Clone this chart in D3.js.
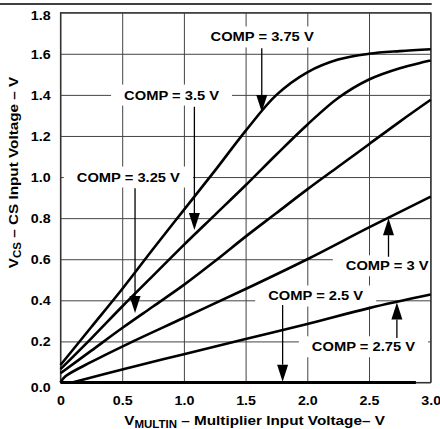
<!DOCTYPE html>
<html>
<head>
<meta charset="utf-8">
<script src="https://cdn.jsdelivr.net/npm/d3@7"></script>
<style>
  body { margin: 0; background: #fff; }
  svg { display: block; }
  text { font-family: "Liberation Sans", Arial, sans-serif; font-weight: bold; fill: #000; }
</style>
</head>
<body>
<svg id="chart" width="440" height="429"></svg>
<script>
// axis ticks
const xTicks = [0, 0.5, 1.0, 1.5, 2.0, 2.5, 3.0];
const xTickLabels = ["0", "0.5", "1.0", "1.5", "2.0", "2.5", "3.0"];
const yTicks = [0, 0.2, 0.4, 0.6, 0.8, 1.0, 1.2, 1.4, 1.6, 1.8];
const yTickLabels = ["0.0", "0.2", "0.4", "0.6", "0.8", "1.0", "1.2", "1.4", "1.6", "1.8"];

// V_MULTIN (V) and V_CS (V), one pair per COMP value
const multin375 = [0, 0.25, 0.5, 0.75, 1.0, 1.25, 1.5, 1.75, 2.0, 2.25, 2.5, 2.75, 3.0];
const cs375 = [0.085, 0.27, 0.455, 0.65, 0.84, 1.03, 1.225, 1.40, 1.51, 1.572, 1.60, 1.613, 1.622];
const multin350 = [0, 0.25, 0.5, 0.75, 1.0, 1.25, 1.5, 1.75, 2.0, 2.25, 2.5, 2.75, 3.0];
const cs350 = [0.065, 0.215, 0.37, 0.52, 0.67, 0.815, 0.96, 1.11, 1.255, 1.385, 1.475, 1.53, 1.567];
const multin325 = [0, 0.25, 0.5, 0.75, 1.0, 1.25, 1.5, 1.75, 2.0, 2.25, 2.5, 2.75, 3.0];
const cs325 = [0.045, 0.155, 0.265, 0.37, 0.475, 0.59, 0.71, 0.825, 0.94, 1.05, 1.16, 1.27, 1.376];
const multin300 = [0, 0.04, 0.25, 0.5, 1.0, 1.5, 2.0, 2.5, 3.0];
const cs300 = [0.0, 0.03, 0.1, 0.175, 0.315, 0.455, 0.60, 0.755, 0.905];
const multin275 = [0.095, 0.5, 1.0, 1.5, 2.0, 2.5, 3.0];
const cs275 = [0, 0.063, 0.138, 0.212, 0.285, 0.362, 0.428];
const multin250 = [0, 2.88];
const cs250 = [0, 0];

// callouts: text, text centre and arrow (in volts)
const calloutText = ["COMP = 3.75 V", "COMP = 3.5 V", "COMP = 3.25 V", "COMP = 3 V", "COMP = 2.5 V", "COMP = 2.75 V"];
const calloutX = [1.634, 0.90, 0.55, 2.647, 2.068, 2.455];
const calloutY = [1.682, 1.399, 1.0, 0.568, 0.421, 0.174];
const arrowX = [1.631, 1.085, 0.604, 2.658, 1.80, 2.726];
const arrowFrom = [1.627, 1.342, 0.946, 0.612, 0.377, 0.216];
const arrowTo = [1.317, 0.742, 0.338, 0.80, 0.004, 0.39];

const series = [
    { x: multin375, y: cs375 },
    { x: multin350, y: cs350 },
    { x: multin325, y: cs325 },
    { x: multin300, y: cs300 },
    { x: multin275, y: cs275 },
    { x: multin250, y: cs250, bold: true }
];

const svg = d3.select("#chart");
const plotLeft = 60.5, plotRight = 430.7, plotTop = 12.7, plotBottom = 382.5;
const stretch = 1.15; // the reference font runs wider than Arial

const x = d3.scaleLinear().domain([0, 3]).range([plotLeft, plotRight]);
const y = d3.scaleLinear().domain([0, 1.8]).range([plotBottom, plotTop]);

//Rule across the top of the figure
svg.append("line")
    .attr("x1", 0).attr("x2", plotRight + 1)
    .attr("y1", 4).attr("y2", 4)
    .attr("stroke", "#000")
    .attr("stroke-width", 1.4);

svg.append("clipPath").attr("id", "plot-clip")
    .append("rect")
    .attr("x", plotLeft).attr("y", plotTop)
    .attr("width", plotRight - plotLeft).attr("height", plotBottom - plotTop);

//Grid lines and tick labels
const yAxis = svg.append("g")
    .attr("transform", `translate(${plotLeft},0)`)
    .call(d3.axisLeft(y).tickValues(yTicks).tickSize(-(plotRight - plotLeft)).tickPadding(0)
        .tickFormat((d, i) => yTickLabels[i]));
const xAxis = svg.append("g")
    .attr("transform", `translate(0,${plotBottom})`)
    .call(d3.axisBottom(x).tickValues(xTicks).tickSize(-(plotBottom - plotTop)).tickPadding(0)
        .tickFormat((d, i) => xTickLabels[i]));

[xAxis, yAxis].forEach(g => {
    g.select(".domain").remove();
    g.selectAll(".tick line").attr("stroke", "#444").attr("stroke-width", 1);
});

yAxis.selectAll(".tick text")
    .attr("x", 0).attr("dy", "0.36em")
    .attr("font-size", 12.4)
    .attr("text-anchor", "end")
    .attr("transform", (d, i) => {
        let nudge = 0;
        if (i === 0) nudge = 5;
        if (i === yTicks.length - 1) nudge = 2.5;
        return `translate(-9.8,${nudge}) scale(${stretch},1)`;
    });

xAxis.selectAll(".tick text")
    .attr("y", 0).attr("dy", 0)
    .attr("font-size", 12.4)
    .attr("transform", `translate(0,22.5) scale(${stretch},1)`);

//White patches behind the callouts
const calloutLayer = svg.append("g").attr("clip-path", "url(#plot-clip)");
const labelLayer = svg.append("g");

calloutText.forEach((t, i) => {
    const label = labelLayer.append("text")
        .attr("text-anchor", "middle")
        .attr("dy", "0.35em")
        .attr("font-size", 12.8)
        .attr("transform", `translate(${x(calloutX[i])},${y(calloutY[i])}) scale(${stretch},1)`)
        .text(t);
    const w = label.node().getComputedTextLength() * stretch;
    calloutLayer.append("rect")
        .attr("x", x(calloutX[i]) - w / 2 - 13)
        .attr("y", y(calloutY[i]) - 10.5)
        .attr("width", w + 26)
        .attr("height", 21)
        .attr("fill", "#fff");
});

//Plot frame
svg.append("rect")
    .attr("x", plotLeft).attr("y", plotTop)
    .attr("width", plotRight - plotLeft).attr("height", plotBottom - plotTop)
    .attr("fill", "none")
    .attr("stroke", "#333")
    .attr("stroke-width", 1.2);

//Curves
const line = d3.line()
    .x(d => x(d[0]))
    .y(d => y(d[1]))
    .curve(d3.curveCatmullRom.alpha(0.5));

svg.append("g").selectAll("path")
    .data(series)
    .enter()
    .append("path")
    .attr("d", s => line(s.x.map((v, i) => [v, s.y[i]])))
    .attr("fill", "none")
    .attr("stroke", "#000")
    .attr("stroke-width", s => s.bold ? 3.2 : 2.6)
    .attr("stroke-linecap", "butt");

//Arrows pointing at the curves
const arrows = svg.append("g");
arrowX.forEach((ax, i) => {
    const px = x(ax), y0 = y(arrowFrom[i]), y1 = y(arrowTo[i]);
    const dir = y1 > y0 ? 1 : -1;
    const headLen = 17, headHalf = 5.5;
    arrows.append("line")
        .attr("x1", px).attr("x2", px)
        .attr("y1", y0).attr("y2", y1 - dir * headLen)
        .attr("stroke", "#000")
        .attr("stroke-width", 1.3);
    arrows.append("path")
        .attr("d", `M${px - headHalf},${y1 - dir * headLen}L${px + headHalf},${y1 - dir * headLen}L${px},${y1}Z`)
        .attr("fill", "#000");
});

labelLayer.raise();

//Axis titles
const xTitle = svg.append("text")
    .attr("text-anchor", "middle")
    .attr("font-size", 13.3)
    .attr("transform", `translate(${(plotLeft + plotRight) / 2 + 9},425) scale(${stretch},1)`);
xTitle.append("tspan").text("V");
xTitle.append("tspan").attr("font-size", 10).attr("dy", 3).text("MULTIN");
xTitle.append("tspan").attr("dy", -3).text(" \u2013 Multiplier Input Voltage\u2013 V");

const yTitle = svg.append("text")
    .attr("text-anchor", "middle")
    .attr("font-size", 13.3)
    .attr("transform", `translate(17.5,${(78 + 267) / 2}) rotate(-90) scale(${stretch},1)`);
yTitle.append("tspan").text("V");
yTitle.append("tspan").attr("font-size", 10).attr("dy", 3).text("CS");
yTitle.append("tspan").attr("dy", -3).text(" \u2013 CS Input Voltage \u2013 V");
</script>
</body>
</html>
